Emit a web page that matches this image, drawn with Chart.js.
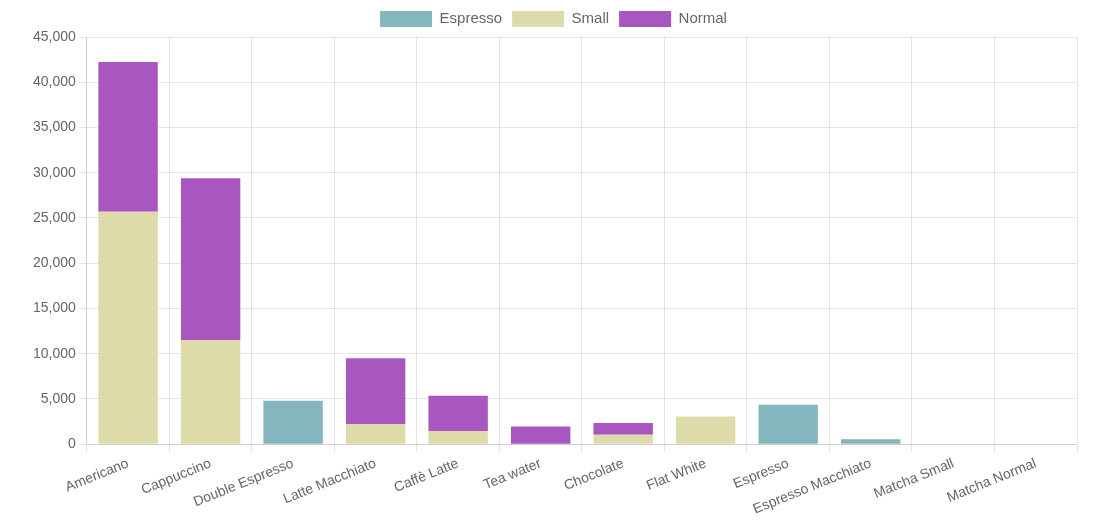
<!DOCTYPE html>
<html>
<head>
<meta charset="utf-8">
<script src="https://cdn.jsdelivr.net/npm/chart.js@4/dist/chart.umd.min.js"></script>
<style>
  html, body { margin: 0; padding: 0; background: #fff; }
  #box { width: 1099px; height: 521px; }
</style>
</head>
<body>
<div id="box"><canvas id="grafico"></canvas></div>
<script>
const categorias = ["Americano", "Cappuccino", "Double Espresso", "Latte Macchiato", "Caffè Latte", "Tea water",
  "Chocolate", "Flat White", "Espresso", "Espresso Macchiato", "Matcha Small", "Matcha Normal"];
const espresso = [0, 0, 4800, 0, 0, 0, 0, 0, 4350, 550, 0, 0];
const small = [25700, 11500, 0, 2200, 1450, 0, 1050, 3050, 0, 0, 0, 0];
const normal = [16550, 17900, 0, 7300, 3900, 1950, 1300, 0, 0, 0, 0, 0];

Chart.defaults.font.family = "'Liberation Sans', Arial, sans-serif";
Chart.defaults.font.size = 14;
Chart.defaults.color = '#666';

const ctx = document.getElementById('grafico').getContext('2d');
new Chart(ctx, {
  type: 'bar',
  data: {
    labels: categorias,
    datasets: [
      { label: 'Espresso', data: espresso, backgroundColor: '#84b6bd' },
      { label: 'Small', data: small, backgroundColor: '#dedbab' },
      { label: 'Normal', data: normal, backgroundColor: '#a856c0' }
    ]
  },
  options: {
    responsive: true,
    maintainAspectRatio: false,
    animation: false,
    layout: { padding: { left: 30, right: 22, top: 1, bottom: 0 } },
    plugins: {
      legend: {
        labels: { boxWidth: 52, boxHeight: 16, font: { size: 15 } }
      },
      tooltip: { enabled: false }
    },
    scales: {
      x: {
        stacked: true,
        ticks: { maxRotation: 22, minRotation: 22, font: { size: 14 } }
      },
      y: {
        stacked: true,
        min: 0,
        max: 45000,
        ticks: { stepSize: 5000 }
      }
    }
  }
});
</script>
</body>
</html>
